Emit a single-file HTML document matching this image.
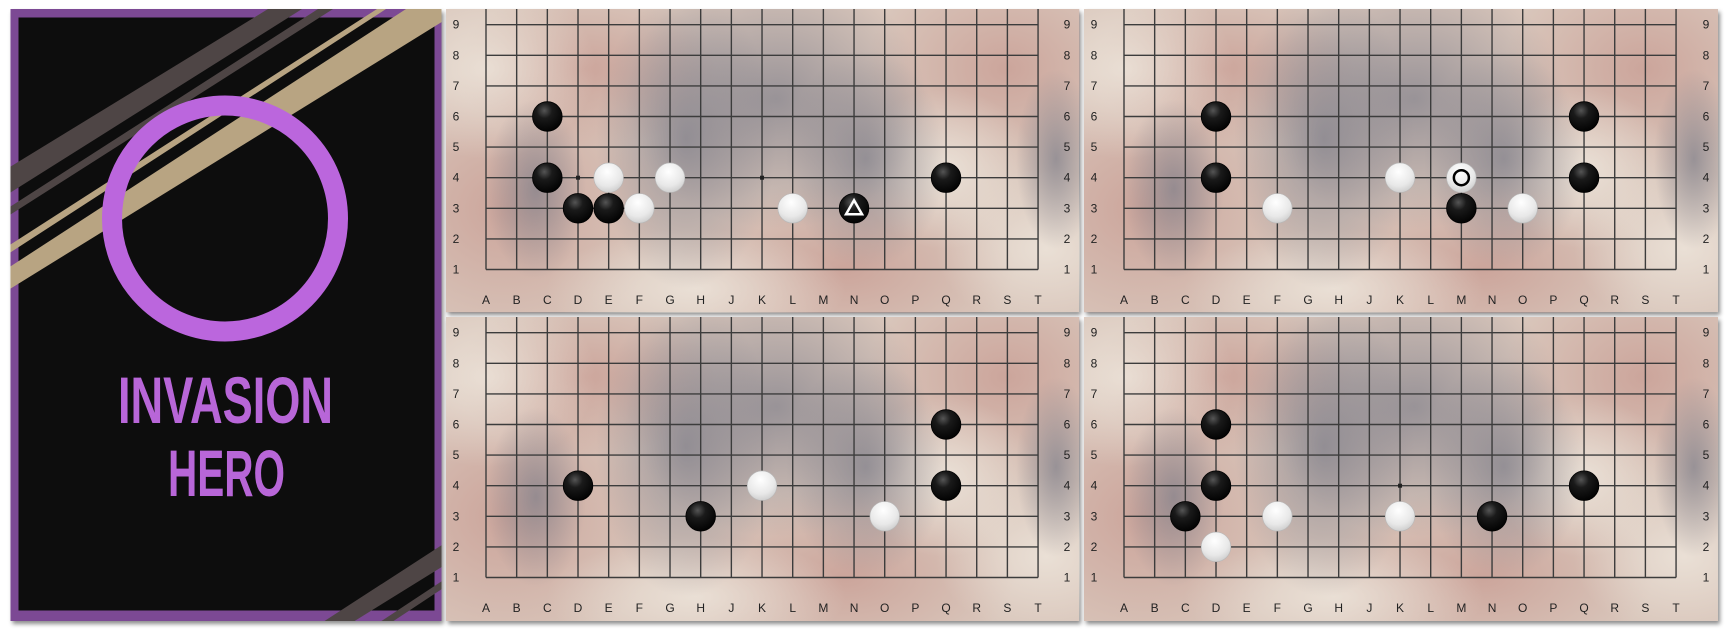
<!DOCTYPE html>
<html><head><meta charset="utf-8"><style>
html,body{margin:0;padding:0;background:#fff;width:1727px;height:629px;overflow:hidden}
svg{display:block}
</style></head><body>
<svg id="root" width="1727" height="629" viewBox="0 0 1727 629" xmlns="http://www.w3.org/2000/svg">
<defs>
  <filter id="shadow" x="-5%" y="-5%" width="112%" height="115%"><feDropShadow dx="2" dy="3" stdDeviation="2" flood-color="#000" flood-opacity="0.45"/></filter>
  <clipPath id="panelClip"><rect x="10.5" y="9" width="431" height="612"/></clipPath>
  <clipPath id="boardClipA"><rect x="0" y="0" width="633" height="303"/></clipPath>
  <clipPath id="boardClipB"><rect x="0" y="0" width="634" height="304"/></clipPath>
  <radialGradient id="blackG" cx="0.4" cy="0.3" r="0.75"><stop offset="0" stop-color="#555"/><stop offset="0.35" stop-color="#1a1a1a"/><stop offset="1" stop-color="#000"/></radialGradient>
  <radialGradient id="whiteG" cx="0.45" cy="0.3" r="0.8"><stop offset="0" stop-color="#ffffff"/><stop offset="0.6" stop-color="#e8e8e8"/><stop offset="1" stop-color="#c4c4c4"/></radialGradient>
  <radialGradient id="m1" cx="0.5" cy="0.5" r="0.5"><stop offset="0" stop-color="#7d7d88" stop-opacity="0.7"/><stop offset="1" stop-color="#7d7d88" stop-opacity="0"/></radialGradient>
  <radialGradient id="m2" cx="0.5" cy="0.5" r="0.5"><stop offset="0" stop-color="#c38f86" stop-opacity="0.6"/><stop offset="1" stop-color="#c38f86" stop-opacity="0"/></radialGradient>
  <radialGradient id="m3" cx="0.5" cy="0.5" r="0.5"><stop offset="0" stop-color="#eee6dc" stop-opacity="0.8"/><stop offset="1" stop-color="#eee6dc" stop-opacity="0"/></radialGradient>
</defs>

<g filter="url(#shadow)">
  <rect x="10.5" y="9" width="431" height="612" fill="#7c4894"/>
  <rect x="18.5" y="17.5" width="416" height="593" fill="#0e0e0e"/>
</g>
<g clip-path="url(#panelClip)">
  <polygon points="5,170 268,9 302,9 5,196" fill="#4e4545"/>
  <polygon points="5,210 318,9 333,9 5,218" fill="#4e4545"/>
  <polygon points="5,248 377,9 386,9 5,256" fill="#b8a482"/>
  <polygon points="5,270 406,9 445,9 445,20 5,292" fill="#b8a482"/>
  <polygon points="323,622 445,543 445,565 353,622" fill="#4e4545"/>
  <polygon points="380,622 445,579 445,587 392,622" fill="#4e4545"/>
</g>
<circle cx="225" cy="218.5" r="113" fill="none" stroke="#bb66dd" stroke-width="20"/>
<text x="118" y="423" textLength="215" lengthAdjust="spacingAndGlyphs" font-family="Liberation Sans, sans-serif" font-weight="bold" font-size="66" fill="#b866d8">INVASION</text>
<text x="168" y="496" textLength="117" lengthAdjust="spacingAndGlyphs" font-family="Liberation Sans, sans-serif" font-weight="bold" font-size="66" fill="#b866d8">HERO</text>

<g id="boards"></g>
</svg>
<script>
const cols = "ABCDEFGHJKLMNOPQRST".split("");
const rows = [1,2,3,4,5,6,7,8,9];
const board1Black = ["C6","C4","D3","E3","N3","Q4"];
const board1White = ["E4","G4","F3","L3"];
const board2Black = ["D6","D4","Q6","Q4","M3"];
const board2White = ["F3","K4","O3","M4"];
const board3Black = ["D4","H3","Q6","Q4"];
const board3White = ["K4","O3"];
const board4Black = ["D6","D4","C3","N3","Q4"];
const board4White = ["D2","F3","K3"];
const hoshi = ["D4","K4","Q4"];
const triangleMarks1 = ["N3"];
const circleMarks2 = ["M4"];

const NS = "http://www.w3.org/2000/svg";
const boardsG = document.getElementById("boards");
const SP = 30.67, ROWSP = 30.6;
function mk(tag, attrs, parent){const e=document.createElementNS(NS,tag);for(const k in attrs)e.setAttribute(k,attrs[k]);parent.appendChild(e);return e;}
function colX(c){return 40 + cols.indexOf(c)*SP;}
function rowY(r){return 260.5 - (r-1)*ROWSP;}
function pt(s){return [colX(s[0]), rowY(parseInt(s.slice(1)))];}

const boardDefs = [
  {x:446,y:9,w:633,h:303,black:board1Black,white:board1White,tri:triangleMarks1,circ:[]},
  {x:1084,y:9,w:634,h:303,black:board2Black,white:board2White,tri:[],circ:circleMarks2},
  {x:446,y:317,w:633,h:304,black:board3Black,white:board3White,tri:[],circ:[]},
  {x:1084,y:317,w:634,h:304,black:board4Black,white:board4White,tri:[],circ:[]}
];

boardDefs.forEach((b,bi)=>{
  const g = mk("g",{transform:`translate(${b.x},${b.y})`},boardsG);
  
  
  const bg = mk("rect",{x:0,y:0,width:b.w,height:b.h,fill:"#d9c6bb",filter:"url(#shadow)"},g);
  
  
  const tex = mk("g",{"clip-path":"url(#boardClipB)"},g);
  
  
  const blobs = [
    ["m2",60,200,160,140],["m2",560,60,140,110],["m2",400,260,170,90],["m2",140,60,130,80],
    ["m3",40,60,110,90],["m3",600,240,110,80],["m3",250,280,150,60],["m3",500,160,90,80],
    ["m1",330,90,150,130],["m1",240,130,90,150],["m1",420,150,80,110],["m1",90,180,50,90],["m1",610,150,40,90]
  ];
  blobs.forEach(o=>{mk("ellipse",{cx:o[1],cy:o[2],rx:o[3],ry:o[4],fill:`url(#${o[0]})`},tex);});
  const grid = mk("g",{stroke:"#3c3c3c","stroke-width":"1.4"},g);
  
  
  cols.forEach(c=>{mk("line",{x1:colX(c),x2:colX(c),y1:0,y2:rowY(1)},grid);});
  rows.forEach(r=>{mk("line",{x1:colX("A"),x2:colX("T"),y1:rowY(r),y2:rowY(r)},grid);});
  hoshi.forEach(h=>{const p=pt(h);const d=mk("rect",{x:p[0]-2,y:p[1]-2,width:4,height:4,fill:"#222"},g);
    
    });
  cols.forEach(c=>{const t=mk("text",{x:colX(c),y:295,"text-anchor":"middle","font-family":"Liberation Sans, sans-serif","font-size":"12",fill:"#222"},g);t.textContent=c;
    
    });
  rows.forEach(r=>{[10,b.w-12].forEach(xx=>{const t=mk("text",{x:xx,y:rowY(r)+4,"text-anchor":"middle","font-family":"Liberation Sans, sans-serif","font-size":"12",fill:"#222"},g);t.textContent=r;
    
    });});
  b.black.forEach(s=>{const p=pt(s);const c=mk("circle",{cx:p[0],cy:p[1],r:14.8,fill:"url(#blackG)",stroke:"#000","stroke-width":"0.8"},g);
    
    });
  b.white.forEach(s=>{const p=pt(s);const c=mk("circle",{cx:p[0],cy:p[1],r:14.8,fill:"url(#whiteG)",stroke:"#b8b8b8","stroke-width":"0.6"},g);
    
    });
  b.tri.forEach(s=>{const p=pt(s);const t=mk("polygon",{points:`${p[0]},${p[1]-8} ${p[0]+8},${p[1]+6} ${p[0]-8},${p[1]+6}`,fill:"none",stroke:"#fff","stroke-width":"2.5"},g);
    
    });
  b.circ.forEach(s=>{const p=pt(s);const t=mk("circle",{cx:p[0],cy:p[1],r:7.5,fill:"none",stroke:"#000","stroke-width":"2.5"},g);
    
    });
});
</script>
</body></html>
